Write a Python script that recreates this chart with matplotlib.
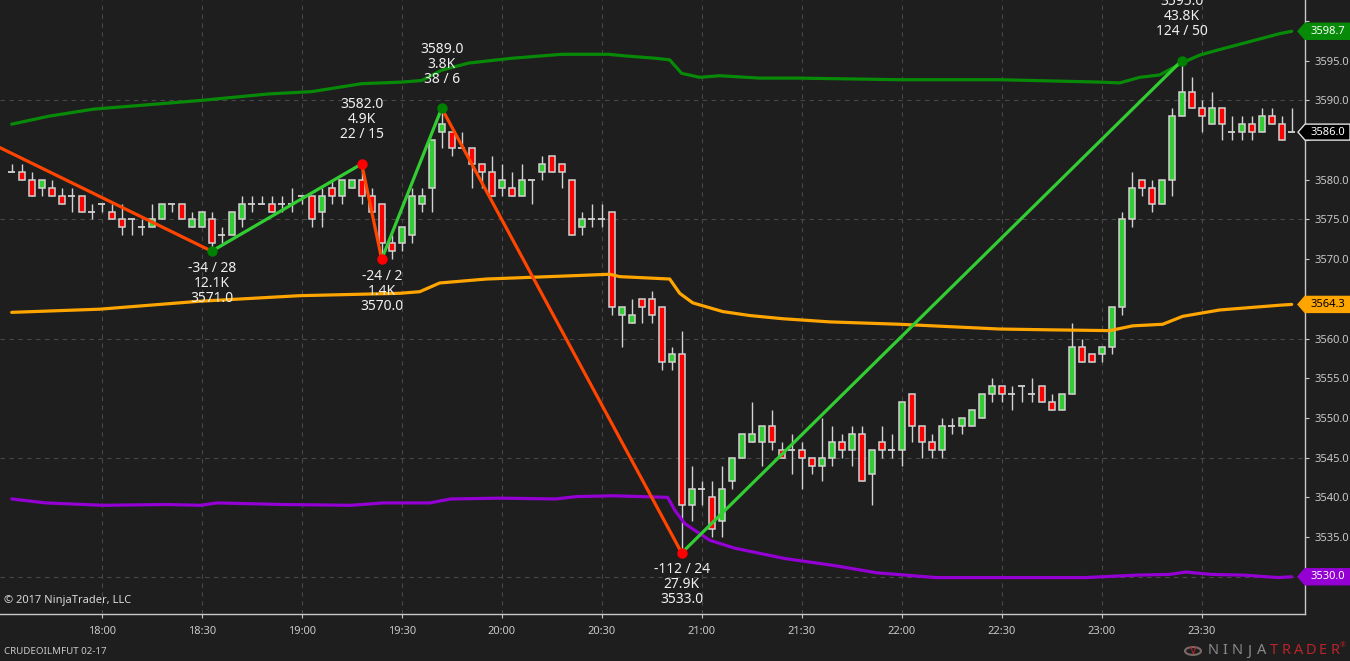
import numpy as np
import matplotlib
matplotlib.use("Agg")
import matplotlib.pyplot as plt
from matplotlib.patches import Polygon, Circle

plt.rcParams['font.family'] = ['Noto Sans', 'DejaVu Sans']

# 3-minute bars, CRUDEOILMFUT 02-17 (bar 9 = 18:00)
bar_open = [3581, 3581, 3580, 3579, 3579, 3578, 3578, 3578, 3576, 3577,
            3576, 3575, 3575, 3574, 3574, 3575, 3577, 3577, 3574, 3574,
            3575, 3573, 3573, 3575, 3577, 3577, 3577, 3577, 3577, 3578,
            3578, 3576, 3579, 3578, 3579, 3580, 3578, 3577, 3572, 3572,
            3573, 3577, 3579, 3586, 3586, 3584, 3584, 3582, 3581, 3579,
            3579, 3578, 3580, 3581, 3583, 3582, 3580, 3574, 3575, 3575,
            3576, 3563, 3562, 3565, 3565, 3564, 3557, 3558, 3539, 3541,
            3540, 3537, 3542, 3545, 3547, 3547, 3549, 3546, 3546, 3546,
            3545, 3544, 3545, 3547, 3546, 3548, 3543, 3547, 3546, 3546,
            3553, 3549, 3547, 3546, 3549, 3549, 3549, 3550, 3553, 3554,
            3553, 3554, 3553, 3554, 3552, 3551, 3553, 3559, 3558, 3558,
            3559, 3564, 3575, 3580, 3579, 3577, 3580, 3588, 3591, 3589,
            3587, 3589, 3586, 3586, 3587, 3586, 3588, 3587, 3586]
bar_high = [3582, 3582, 3581, 3580, 3580, 3579, 3579, 3578, 3577, 3577,
            3577, 3577, 3575, 3575, 3577, 3577, 3577, 3577, 3576, 3576,
            3576, 3574, 3576, 3578, 3578, 3578, 3578, 3578, 3579, 3578,
            3578, 3579, 3580, 3580, 3580, 3582, 3579, 3577, 3573, 3574,
            3579, 3579, 3585, 3589, 3586, 3586, 3584, 3582, 3583, 3582,
            3581, 3582, 3580, 3583, 3583, 3582, 3580, 3576, 3577, 3577,
            3576, 3564, 3565, 3565, 3566, 3564, 3559, 3561, 3544, 3542,
            3542, 3544, 3545, 3548, 3552, 3549, 3551, 3547, 3548, 3547,
            3545, 3550, 3549, 3548, 3549, 3549, 3546, 3549, 3548, 3552,
            3553, 3549, 3548, 3550, 3550, 3550, 3551, 3553, 3555, 3554,
            3554, 3554, 3555, 3554, 3553, 3553, 3562, 3560, 3558, 3559,
            3564, 3576, 3581, 3580, 3580, 3580, 3589, 3595, 3593, 3590,
            3591, 3589, 3588, 3588, 3588, 3589, 3589, 3588, 3589]
bar_low = [3581, 3580, 3578, 3578, 3578, 3577, 3576, 3576, 3575, 3576,
           3575, 3573, 3573, 3573, 3574, 3575, 3576, 3575, 3574, 3574,
           3571, 3572, 3573, 3574, 3576, 3577, 3576, 3576, 3576, 3577,
           3574, 3574, 3577, 3577, 3579, 3577, 3576, 3570, 3570, 3571,
           3572, 3576, 3576, 3584, 3583, 3584, 3579, 3579, 3578, 3578,
           3578, 3578, 3577, 3580, 3581, 3579, 3573, 3573, 3574, 3574,
           3563, 3559, 3562, 3562, 3562, 3556, 3556, 3533, 3537, 3539,
           3535, 3535, 3541, 3545, 3547, 3544, 3546, 3545, 3543, 3541,
           3543, 3542, 3544, 3545, 3544, 3542, 3539, 3545, 3545, 3544,
           3547, 3545, 3545, 3545, 3548, 3548, 3549, 3550, 3552, 3552,
           3551, 3552, 3552, 3552, 3551, 3551, 3553, 3557, 3557, 3557,
           3558, 3563, 3574, 3578, 3576, 3577, 3578, 3588, 3589, 3586,
           3587, 3585, 3585, 3585, 3585, 3586, 3587, 3585, 3586]
bar_close = [3581, 3580, 3578, 3580, 3578, 3577, 3578, 3576, 3576, 3577,
             3575, 3574, 3575, 3574, 3575, 3577, 3577, 3575, 3575, 3576,
             3572, 3573, 3576, 3577, 3577, 3577, 3576, 3577, 3577, 3578,
             3575, 3578, 3578, 3580, 3580, 3578, 3576, 3572, 3571, 3574,
             3578, 3578, 3585, 3587, 3584, 3584, 3582, 3581, 3578, 3580,
             3578, 3580, 3580, 3582, 3581, 3581, 3573, 3575, 3575, 3575,
             3564, 3564, 3563, 3564, 3563, 3557, 3558, 3539, 3541, 3541,
             3536, 3541, 3545, 3548, 3548, 3549, 3547, 3545, 3546, 3545,
             3544, 3545, 3547, 3546, 3548, 3542, 3546, 3546, 3546, 3552,
             3549, 3547, 3546, 3549, 3549, 3550, 3551, 3553, 3554, 3553,
             3553, 3554, 3553, 3552, 3551, 3553, 3559, 3557, 3557, 3559,
             3564, 3575, 3579, 3579, 3577, 3580, 3588, 3591, 3589, 3588,
             3589, 3587, 3586, 3587, 3586, 3588, 3587, 3585, 3586]

time_ticks = [9, 19, 29, 39, 49, 59, 69, 79, 89, 99, 109, 119]
time_labels = ['18:00', '18:30', '19:00', '19:30', '20:00', '20:30',
               '21:00', '21:30', '22:00', '22:30', '23:00', '23:30']

# envelope bands, read at selected bars
upper_idx = [0, 3.7, 8.2, 12.2, 19, 25.6, 30, 35, 39, 41, 43, 45.7, 50, 55,
             59.7, 61.3, 64.4, 65.8, 67, 68.8, 70.8, 74.8, 78.8, 88.8, 98.8,
             108.8, 110.8, 112.8, 114.8, 117, 118.8, 120.5, 123.8, 126.8, 128]
upper_val = [3587.0, 3588.0, 3588.9, 3589.3, 3590.0, 3590.8, 3591.1, 3592.1,
             3592.3, 3592.5, 3593.8, 3594.7, 3595.3, 3595.8, 3595.8, 3595.6,
             3595.3, 3595.1, 3593.4, 3592.9, 3593.1, 3592.8, 3592.8, 3592.6,
             3592.6, 3592.3, 3592.2, 3592.9, 3593.2, 3594.7, 3595.7, 3596.3,
             3597.4, 3598.4, 3598.7]
mid_idx = [0, 8.8, 18.8, 28.8, 38.8, 40.8, 42.8, 47.5, 55.8, 59.8, 60.8,
           65.8, 66.8, 68.1, 71.1, 73.8, 77.1, 81.8, 88.8, 93.8, 98.8, 103.8,
           109.8, 112.1, 115.1, 117.1, 120.8, 126.8, 128]
mid_val = [3563.3, 3563.7, 3564.7, 3565.4, 3565.7, 3565.9, 3567.0, 3567.5,
           3567.9, 3568.1, 3567.8, 3567.5, 3565.7, 3564.5, 3563.4, 3562.9,
           3562.5, 3562.1, 3561.8, 3561.5, 3561.2, 3561.1, 3561.0, 3561.6,
           3561.8, 3562.8, 3563.6, 3564.2, 3564.3]
lower_idx = [0, 3.4, 9.2, 15.5, 18.9, 20.5, 27.2, 33.9, 37.2, 41.8, 43.9,
             48.9, 54.4, 56.5, 60.2, 65.6, 66.3, 67.3, 69.8, 72.3, 77.3, 82.3,
             86.5, 92.4, 107.4, 112.4, 115.8, 117.4, 119.9, 123.3, 126.6, 128]
lower_val = [3539.8, 3539.3, 3539.0, 3539.1, 3539.0, 3539.3, 3539.1, 3539.0,
             3539.3, 3539.3, 3539.8, 3539.9, 3539.8, 3540.1, 3540.2, 3540.0,
             3538.4, 3536.7, 3534.6, 3533.6, 3532.3, 3531.4, 3530.5, 3529.9,
             3529.9, 3530.2, 3530.3, 3530.6, 3530.3, 3530.2, 3529.9, 3530.0]

# zigzag swings (first point lies off the left edge)
swing_idx = [-5, 20, 35, 37, 43, 67, 117]
swing_price = [3586.4, 3571, 3582, 3570, 3589, 3533, 3595]
swing_vol = ['', '12.1K', '4.9K', '1.4K', '3.8K', '27.9K', '43.8K']
swing_count = ['', '-34 / 28', '22 / 15', '-24 / 2', '38 / 6', '-112 / 24', '124 / 50']
swing_dot = ['', '#008000', '#ff0000', '#ff0000', '#008000', '#ff0000', '#008000']

W, H = 1350, 661
BG = '#1e1e1e'
TXT = '#c8c8c8'
WICK = '#d2d2d2'
PX = 0.72  # points per pixel at dpi 100

fig = plt.figure(figsize=(W / 100, H / 100), dpi=100, facecolor=BG)
ax = fig.add_axes([0, 47 / H, 1305 / W, 614 / H], facecolor=BG)
ax.set_xlim(-1.17, 129.33)
ax.set_ylim(3525.31, 3602.64)

# grid
for g in np.arange(3530, 3601, 15):
    ax.axhline(g, color='#474747', lw=0.8, ls=(0, (4, 4)), zorder=0)
for t in time_ticks:
    ax.axvline(t, color='#474747', lw=0.8, ls=(0, (4, 4)), zorder=0)

# candles
x = np.arange(len(bar_open))
o = np.array(bar_open, float)
hi = np.array(bar_high, float)
lo = np.array(bar_low, float)
c = np.array(bar_close, float)
up, dn, dj = c > o, c < o, c == o
ax.vlines(x, lo, hi, color=WICK, lw=1.0, zorder=2)
ax.bar(x[up], (c - o)[up], bottom=o[up], width=0.62, color='#32cd32',
       edgecolor=WICK, linewidth=1.1, zorder=3)
ax.bar(x[dn], (o - c)[dn], bottom=c[dn], width=0.62, color='#ff0000',
       edgecolor=WICK, linewidth=1.1, zorder=3)
ax.hlines(o[dj], x[dj] - 0.34, x[dj] + 0.34, color=WICK, lw=1.3, zorder=3)

# bands
ax.plot(upper_idx, upper_val, color='#078a07', lw=2.3, zorder=4, solid_capstyle='round')
ax.plot(mid_idx, mid_val, color='#ffa500', lw=2.3, zorder=4, solid_capstyle='round')
ax.plot(lower_idx, lower_val, color='#9400d3', lw=2.3, zorder=4, solid_capstyle='round')

# zigzag
for k in range(len(swing_idx) - 1):
    col = '#32cd32' if swing_price[k + 1] > swing_price[k] else '#ff4500'
    ax.plot(swing_idx[k:k + 2], swing_price[k:k + 2], color=col, lw=2.3,
            zorder=6, solid_capstyle='round')
for k in range(1, len(swing_idx)):
    ax.plot(swing_idx[k], swing_price[k], 'o', color=swing_dot[k], ms=6.5,
            zorder=7)
    is_high = swing_price[k] > swing_price[k - 1]
    if is_high:
        lines = [f'{swing_price[k]:.1f}', swing_vol[k], swing_count[k]]
        offs = [-(29 + 15 * (2 - j)) for j in range(3)]
    else:
        lines = [swing_count[k], swing_vol[k], f'{swing_price[k]:.1f}']
        offs = [17 + 15 * j for j in range(3)]
    for s, off in zip(lines, offs):
        ax.annotate(s, (swing_idx[k], swing_price[k]), xytext=(0, -off * PX),
                    textcoords='offset points', ha='center', va='center',
                    color='#f0f0f0', fontsize=10, zorder=8, annotation_clip=False)

# axes styling
for side in ['top', 'left']:
    ax.spines[side].set_visible(False)
for side in ['right', 'bottom']:
    ax.spines[side].set_color(TXT)
    ax.spines[side].set_linewidth(1.0)
ax.yaxis.tick_right()

tag_values = [upper_val[-1], bar_close[-1], mid_val[-1], lower_val[-1]]
yt = np.arange(3530, 3601, 5)
# labels hidden beneath a price tag are left blank
ylabels = ['' if min(abs(v - t) for t in tag_values) < 1.5 else f'{v:.1f}' for v in yt]
ax.set_yticks(yt, ylabels)
ax.set_xticks(time_ticks, time_labels)
ax.tick_params(axis='y', colors=TXT, labelsize=8, length=3, width=0.8, pad=4)
ax.tick_params(axis='x', colors=TXT, labelsize=8, length=3, width=0.8, pad=6)


def price_tag(price, face, tcol, edge=None):
    yp = ax.transData.transform((0, price))[1]
    pts = [(1298, yp), (1305, yp + 8), (1350, yp + 8), (1350, yp - 8), (1305, yp - 8)]
    fig.add_artist(Polygon([(px / W, py / H) for px, py in pts], closed=True,
                           transform=fig.transFigure, facecolor=face,
                           edgecolor=edge if edge else face, lw=1.0, zorder=20))
    fig.text(1328 / W, yp / H, f'{price:.1f}', ha='center', va='center',
             color=tcol, fontsize=8, zorder=21)


price_tag(upper_val[-1], '#078a07', 'white')
price_tag(bar_close[-1], 'black', 'white', edge='#e0e0e0')
price_tag(mid_val[-1], '#ffa500', 'black')
price_tag(lower_val[-1], '#9400d3', 'white')

fig.text(4 / W, 1 - 601 / H, '\u00a9 2017 NinjaTrader, LLC', ha='left', va='center',
         color='#d8d8d8', fontsize=8)
fig.text(4 / W, 1 - 652 / H, 'CRUDEOILMFUT 02-17', ha='left', va='center',
         color=TXT, fontsize=7)

# logo
fig.add_artist(Circle((1193 / W, 1 - 651 / H), 8 / W, transform=fig.transFigure,
                      facecolor='none', edgecolor='#7a6a66', lw=1.5))
fig.text(1193 / W, 1 - 651 / H, 'V', ha='center', va='center', color='#b8242a',
         fontsize=8, fontweight='bold')
for j, ch in enumerate('NINJATRADER'):
    fig.text((1213 + 12.2 * j) / W, 1 - 651 / H, ch, ha='center', va='center',
             color='#8a8a8a' if j < 5 else '#b8242a', fontsize=10.5)
fig.text(1343 / W, 1 - 646 / H, '\u00ae', ha='center', va='center',
         color='#b8242a', fontsize=5)

fig.savefig('out.png', dpi=100, facecolor=BG)
